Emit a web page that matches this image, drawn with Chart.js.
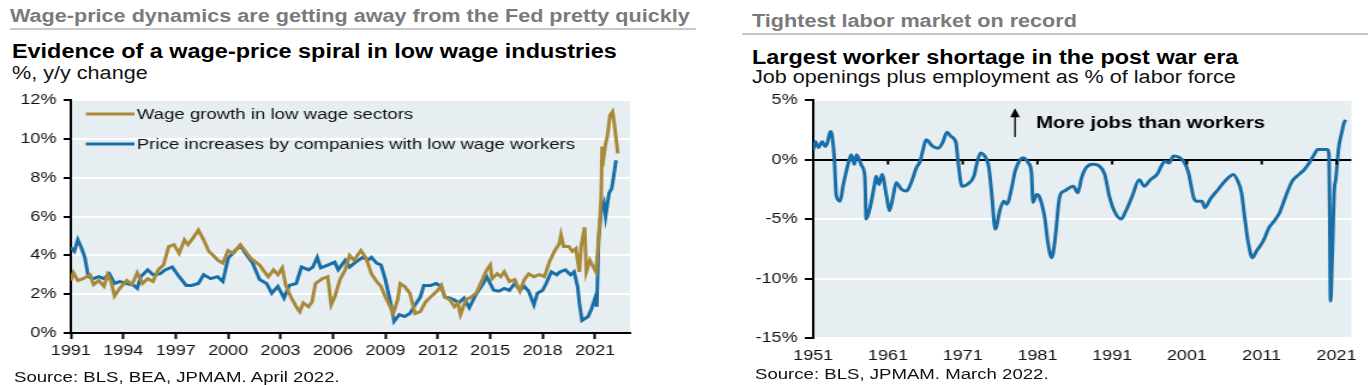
<!DOCTYPE html>
<html lang="en">
<head>
<meta charset="UTF-8" />
<title>Wage-price spiral and labor shortage</title>
<script src="https://cdn.jsdelivr.net/npm/chart.js"></script>
<style>
  body { margin: 0; width: 1368px; height: 385px; background: #fff; position: relative; overflow: hidden;
         font-family: "Liberation Sans", Arial, sans-serif; }
  /* the source graphic is slightly stretched horizontally, so text and canvases get scaleX */
  .txt { position: absolute; white-space: nowrap; line-height: 1; transform: scaleX(1.2); transform-origin: 0 0; }
  .kicker { color: #7a7a7a; font-weight: bold; font-size: 18px; }
  .title { color: #000; font-weight: bold; font-size: 19.5px; }
  .sub { color: #111; font-size: 18px; }
  .src { color: #111; font-size: 15.5px; }
  .rule { position: absolute; height: 2px; background: #c8c8c8; }
  canvas { position: absolute; transform: scaleX(1.2); transform-origin: 0 0; }
</style>
</head>
<body>

<!-- left panel -->
<div class="txt kicker" style="left:10px; top:7px;">Wage-price dynamics are getting away from the Fed pretty quickly</div>
<div class="rule" style="left:10px; top:28px; width:686px;"></div>
<div class="txt title" style="left:12px; top:42px;">Evidence of a wage-price spiral in low wage industries</div>
<div class="txt sub" style="left:12px; top:64px;">%, y/y change</div>
<canvas id="wageCanvas" width="542" height="290" style="left:0; top:85px;"></canvas>
<div class="txt src" style="left:14px; top:369px;">Source: BLS, BEA, JPMAM. April 2022.</div>

<!-- right panel -->
<div class="txt kicker" style="left:752px; top:12px;">Tightest labor market on record</div>
<div class="rule" style="left:742px; top:33px; width:626px;"></div>
<div class="txt title" style="left:752px; top:48px;">Largest worker shortage in the post war era</div>
<div class="txt sub" style="left:752px; top:68px;">Job openings plus employment as % of labor force</div>
<canvas id="laborCanvas" width="523" height="290" style="left:740px; top:85px;"></canvas>
<div class="txt src" style="left:755px; top:366px;">Source: BLS, JPMAM. March 2022.</div>

<script>
    // ---- data: left chart (% y/y) ----
    const wageLabel = 'Wage growth in low wage sectors';
    const priceLabel = 'Price increases by companies with low wage workers';

    const wageYears = [1991.0, 1991.15, 1991.4, 1991.7, 1992.1, 1992.3, 1992.6, 1992.9, 1993.1, 1993.3, 1993.5, 1993.8,
        1994.2, 1994.5, 1994.8, 1995.1, 1995.4, 1995.7, 1996.0, 1996.3, 1996.6, 1996.9, 1997.2, 1997.5, 1997.7,
        1998.0, 1998.3, 1998.6, 1998.9, 1999.2, 1999.4, 1999.7, 2000.0, 2000.3, 2000.7, 2001.0, 2001.3, 2001.8,
        2002.0, 2002.3, 2002.6, 2002.85, 2003.1, 2003.3, 2003.6, 2003.9, 2004.1, 2004.3, 2004.6, 2004.8, 2005.0,
        2005.4, 2005.7, 2005.9, 2006.1, 2006.4, 2006.7, 2006.95, 2007.2, 2007.6, 2007.9, 2008.2, 2008.5, 2008.75,
        2009.0, 2009.2, 2009.45, 2009.7, 2009.85, 2010.1, 2010.4, 2010.7, 2011.0, 2011.3, 2011.7, 2012.0, 2012.2,
        2012.4, 2012.7, 2012.95, 2013.15, 2013.3, 2013.6, 2013.9, 2014.2, 2014.5, 2014.8, 2015.0, 2015.1, 2015.4,
        2015.6, 2015.8, 2016.1, 2016.4, 2016.7, 2016.95, 2017.2, 2017.5, 2017.8, 2018.1, 2018.4, 2018.7, 2018.95,
        2019.05, 2019.2, 2019.5, 2019.7, 2019.9, 2020.1, 2020.2, 2020.4, 2020.5, 2020.7, 2020.9, 2021.05, 2021.2,
        2021.35, 2021.4, 2021.5, 2021.6, 2021.7, 2021.85, 2022.0, 2022.1, 2022.3];
    const wageVals = [2.7, 3.1, 2.7, 2.8, 3.0, 2.5, 2.7, 2.4, 3.0, 2.65, 1.9, 2.3,
        2.7, 2.5, 3.1, 2.55, 2.8, 2.65, 3.25, 3.5, 4.45, 4.55, 4.1, 4.8, 4.55,
        4.9, 5.3, 4.8, 4.2, 3.95, 3.75, 3.6, 4.25, 4.1, 4.55, 4.2, 3.85, 3.5,
        3.25, 2.9, 3.25, 3.0, 3.35, 2.45, 1.85, 1.35, 1.1, 1.55, 1.35, 1.6, 2.55,
        2.8, 2.9, 1.45, 1.85, 2.75, 3.25, 4.0, 3.75, 4.25, 3.85, 3.05, 2.65, 2.4,
        1.85, 1.5, 1.0, 1.7, 2.55, 2.4, 2.05, 1.0, 1.1, 1.6, 1.95, 2.2, 2.45,
        1.85, 1.7, 1.35, 1.55, 0.95, 1.7, 1.85, 2.05, 2.65, 3.25, 3.5, 2.8, 3.05,
        2.9, 3.15, 2.65, 2.75, 2.15, 2.75, 3.05, 2.9, 3.0, 2.9, 3.7, 4.25, 4.6,
        5.05, 4.45, 4.45, 4.2, 4.35, 3.15, 4.45, 5.45, 3.15, 3.75, 3.4, 3.15, 4.8,
        7.0, 9.6, 9.1, 9.75, 10.1, 11.2, 11.4, 10.8, 9.25];

    const priceYears = [1991.0, 1991.2, 1991.4, 1991.6, 1991.8, 1992.0, 1992.3, 1992.6, 1992.9, 1993.2, 1993.5, 1993.8,
        1994.2, 1994.6, 1994.8, 1995.0, 1995.4, 1995.7, 1996.1, 1996.4, 1996.8, 1997.2, 1997.6, 1997.9, 1998.3,
        1998.6, 1999.0, 1999.4, 1999.7, 2000.0, 2000.4, 2000.7, 2001.0, 2001.4, 2001.8, 2002.2, 2002.5, 2002.85,
        2003.2, 2003.5, 2003.9, 2004.2, 2004.6, 2004.85, 2005.1, 2005.3, 2005.7, 2006.1, 2006.3, 2006.7, 2006.95,
        2007.3, 2007.7, 2008.0, 2008.2, 2008.5, 2008.75, 2009.0, 2009.3, 2009.5, 2009.8, 2010.1, 2010.4, 2010.7,
        2011.0, 2011.2, 2011.6, 2011.9, 2012.2, 2012.4, 2012.7, 2012.95, 2013.2, 2013.5, 2013.8, 2014.1, 2014.3,
        2014.6, 2014.8, 2015.0, 2015.2, 2015.5, 2015.8, 2016.1, 2016.4, 2016.7, 2016.95, 2017.2, 2017.5, 2017.7,
        2018.0, 2018.2, 2018.5, 2018.8, 2019.0, 2019.3, 2019.6, 2019.8, 2020.0, 2020.1, 2020.25, 2020.6, 2020.8,
        2021.0, 2021.1, 2021.2, 2021.35, 2021.5, 2021.6, 2021.8, 2021.95, 2022.0, 2022.2];
    const priceVals = [4.4, 4.2, 4.8, 4.4, 3.9, 2.9, 2.8, 2.9, 2.8, 3.05, 2.55, 2.65,
        2.55, 2.45, 2.3, 2.9, 3.25, 3.0, 3.05, 3.25, 3.4, 2.9, 2.45, 2.45, 2.55,
        3.0, 2.8, 2.9, 2.65, 3.85, 4.25, 4.5, 4.1, 3.6, 2.75, 2.55, 2.05, 2.4,
        1.8, 2.45, 2.55, 3.4, 3.25, 3.4, 3.9, 3.35, 3.5, 3.65, 3.25, 3.75, 3.4,
        3.65, 3.9, 3.75, 3.9, 3.6, 3.5, 2.75, 1.55, 0.6, 0.95, 0.85, 1.0, 1.45,
        1.85, 2.45, 2.45, 2.55, 2.4, 1.85, 1.8, 1.7, 1.55, 1.8, 1.3, 1.85, 2.15,
        2.55, 2.9, 2.55, 2.2, 2.15, 2.3, 2.2, 2.55, 2.2, 2.4, 2.15, 1.45, 2.05,
        2.2, 2.55, 3.15, 3.0, 3.15, 3.25, 3.0, 3.15, 2.4, 1.55, 0.65, 0.85, 1.25,
        1.8, 1.35, 4.8, 6.35, 6.7, 6.0, 7.2, 7.45, 7.7, 8.9];

    const wageTickYears = [1991, 1994, 1997, 2000, 2003, 2006, 2009, 2012, 2015, 2018, 2021];

    // ---- data: right chart (% of labor force) ----
    const laborYears = [1951.0, 1951.3, 1951.7, 1952.2, 1952.6, 1952.9, 1953.3, 1953.5, 1953.8, 1954.1, 1954.6, 1955.0,
        1955.7, 1956.1, 1956.5, 1956.8, 1957.5, 1957.9, 1958.1, 1958.6, 1959.2, 1959.4, 1959.8, 1960.2, 1960.8,
        1961.2, 1961.7, 1962.1, 1962.8, 1963.5, 1964.1, 1964.8, 1965.3, 1965.7, 1966.1, 1967.0, 1967.7, 1968.3,
        1968.9, 1969.4, 1970.1, 1970.4, 1970.9, 1971.6, 1972.5, 1972.9, 1973.4, 1973.8, 1974.5, 1974.9, 1975.36,
        1976.0, 1976.5, 1976.9, 1977.6, 1978.0, 1978.7, 1979.1, 1979.8, 1980.2, 1980.4, 1980.9, 1981.3, 1982.0,
        1982.4, 1982.9, 1983.3, 1984.0, 1984.6, 1985.8, 1986.4, 1986.9, 1987.5, 1988.4, 1989.3, 1990.0, 1990.6,
        1991.3, 1992.2, 1992.8, 1993.7, 1994.6, 1995.3, 1996.1, 1997.0, 1997.7, 1998.1, 1998.6, 1999.2, 2000.55,
        2001.2, 2001.9, 2002.3, 2003.0, 2003.4, 2004.1, 2005.0, 2005.9, 2006.5, 2007.2, 2007.8, 2008.3, 2008.7,
        2009.2, 2009.75, 2010.3, 2011.2, 2012.0, 2012.7, 2013.4, 2014.3, 2015.1, 2016.0, 2016.7, 2017.35, 2018.0,
        2018.5, 2019.1, 2019.8, 2020.0, 2020.1, 2020.2, 2020.45, 2020.7, 2020.9, 2021.3, 2021.7, 2022.0, 2022.2];
    const laborVals = [0.8, 1.5, 1.0, 1.5, 1.1, 1.4, 2.35, 2.1, 0.3, -3.05, -3.5, -2.2,
        -0.3, 0.4, -0.4, 0.4, -0.55, -1.4, -5.0, -4.05, -2.1, -1.4, -2.1, -1.25, -3.05,
        -4.3, -3.05, -1.95, -2.5, -2.65, -1.95, -0.7, -0.15, 0.85, 1.65, 1.1, 0.95, 1.4,
        2.3, 1.95, 1.4, -0.3, -2.25, -2.1, -1.4, -0.3, 0.55, 0.4, -0.7, -3.05, -5.85,
        -4.2, -3.5, -3.75, -2.25, -1.0, 0.0, 0.15, -0.3, -1.1, -3.6, -2.95, -3.2, -5.0,
        -7.0, -8.25, -7.0, -3.05, -2.65, -2.25, -2.8, -1.55, -0.7, -0.4, -0.55, -1.25, -3.05,
        -4.35, -5.0, -4.35, -3.05, -1.7, -2.25, -1.7, -1.25, -0.4, -0.15, -0.3, 0.3, -0.15,
        -1.1, -3.2, -3.5, -3.5, -4.05, -3.35, -2.65, -1.95, -1.55, -1.25, -1.8, -2.8, -4.75,
        -7.0, -8.25, -7.7, -6.85, -5.7, -5.15, -4.45, -2.95, -1.8, -1.25, -0.85, -0.3, 0.4,
        0.85, 0.85, 0.85, 0.4, -5.0, -11.9, -7.8, -2.65, -1.7, 1.0, 2.25, 3.05, 3.35];

    const laborTickYears = [1951, 1961, 1971, 1981, 1991, 2001, 2011, 2021];
    const noteText = 'More jobs than workers';

    // ---- styling ----
    const GOLD = '#a8893a';
    const BLUE = '#1a6ea6';
    const PLOT_BG = '#e6eef2';
    const FONT = '"Liberation Sans", Arial, sans-serif';

    Chart.defaults.font.family = FONT;
    Chart.defaults.color = '#111';

    function toPoints(xs, ys) {
        return xs.map((x, i) => ({ x: x, y: ys[i] }));
    }

    // light background behind the plot area
    const plotBg = {
        id: 'plotBg',
        beforeDraw(chart) {
            const a = chart.chartArea;
            const ctx = chart.ctx;
            ctx.save();
            ctx.fillStyle = PLOT_BG;
            ctx.fillRect(a.left, a.top, a.right - a.left, a.bottom - a.top);
            ctx.restore();
        }
    };

    // legend drawn inside the plot, top left, line sample + label
    const insideLegend = {
        id: 'insideLegend',
        afterDatasetsDraw(chart) {
            const a = chart.chartArea;
            const ctx = chart.ctx;
            ctx.save();
            ctx.font = '15.5px ' + FONT;
            ctx.textBaseline = 'middle';
            ctx.fillStyle = '#111';
            chart.data.datasets.forEach((ds, i) => {
                const y = a.top + 14 + i * 30;
                ctx.strokeStyle = ds.borderColor;
                ctx.lineWidth = 3;
                ctx.beginPath();
                ctx.moveTo(a.left + 12.5, y);
                ctx.lineTo(a.left + 53, y);
                ctx.stroke();
                ctx.fillText(ds.label, a.left + 55, y + 1);
            });
            ctx.restore();
        }
    };

    // small tick marks on the zero line + the "more jobs" note with arrow
    const zeroTicks = {
        id: 'zeroTicks',
        afterDraw(chart) {
            const ctx = chart.ctx;
            const xs = chart.scales.x;
            const ys = chart.scales.y;
            const y0 = ys.getPixelForValue(0);
            ctx.save();
            ctx.fillStyle = '#000';
            laborTickYears.slice(1).forEach(yr => {
                const px = xs.getPixelForValue(yr);
                ctx.fillRect(px - 1, y0, 2, 5);
            });

            // arrow
            const ax = xs.getPixelForValue(1978);
            const aTop = ys.getPixelForValue(4.3);
            const aBot = ys.getPixelForValue(1.9);
            ctx.strokeStyle = '#000';
            ctx.lineWidth = 1.3;
            ctx.beginPath();
            ctx.moveTo(ax, aBot);
            ctx.lineTo(ax, aTop + 6);
            ctx.stroke();
            ctx.beginPath();
            ctx.moveTo(ax, aTop);
            ctx.lineTo(ax - 4, aTop + 9);
            ctx.lineTo(ax + 4, aTop + 9);
            ctx.closePath();
            ctx.fill();

            ctx.font = 'bold 17px ' + FONT;
            ctx.textBaseline = 'middle';
            ctx.textAlign = 'left';
            ctx.fillText(noteText, xs.getPixelForValue(1980.8), ys.getPixelForValue(3.0));
            ctx.restore();
        }
    };

    const tickFont = { size: 15, family: FONT };

    new Chart(document.getElementById('wageCanvas'), {
        type: 'line',
        data: {
            datasets: [
                { label: wageLabel, data: toPoints(wageYears, wageVals), borderColor: GOLD, backgroundColor: GOLD, borderWidth: 3 },
                { label: priceLabel, data: toPoints(priceYears, priceVals), borderColor: BLUE, backgroundColor: BLUE, borderWidth: 3 }
            ]
        },
        options: {
            responsive: false,
            animation: false,
            layout: { padding: { top: 14, right: 17, left: 0, bottom: 0 } },
            elements: { point: { radius: 0 }, line: { tension: 0 } },
            plugins: {
                tooltip: { enabled: false },
                legend: { display: false }
            },
            scales: {
                x: {
                    type: 'linear',
                    min: 1991,
                    max: 2023,
                    afterBuildTicks: s => { s.ticks = wageTickYears.map(v => ({ value: v })); },
                    afterFit: s => { s.height = 42; },
                    ticks: { callback: v => String(v), font: tickFont, color: '#111', padding: 3, maxRotation: 0, autoSkip: false },
                    grid: { drawOnChartArea: false, tickLength: 6, tickColor: '#000', tickWidth: 2 },
                    border: { color: '#000', width: 2 }
                },
                y: {
                    min: 0,
                    max: 12,
                    afterFit: s => { s.width = 59; },
                    ticks: { stepSize: 2, callback: v => v + '%', font: tickFont, color: '#111', padding: 6 },
                    grid: { color: '#fff', lineWidth: 2, tickColor: '#000', tickLength: 6, tickWidth: 2 },
                    border: { color: '#000', width: 2 }
                }
            }
        },
        plugins: [plotBg, insideLegend]
    });

    new Chart(document.getElementById('laborCanvas'), {
        type: 'line',
        data: {
            datasets: [
                { label: 'Job openings plus employment', data: toPoints(laborYears, laborVals), borderColor: BLUE, backgroundColor: BLUE, borderWidth: 3 }
            ]
        },
        options: {
            responsive: false,
            animation: false,
            layout: { padding: { top: 13, right: 10, left: 0, bottom: 0 } },
            elements: { point: { radius: 0 }, line: { cubicInterpolationMode: 'monotone' } },
            plugins: {
                tooltip: { enabled: false },
                legend: { display: false }
            },
            scales: {
                x: {
                    type: 'linear',
                    min: 1951,
                    max: 2023,
                    afterBuildTicks: s => { s.ticks = laborTickYears.map(v => ({ value: v })); },
                    afterFit: s => { s.height = 37; },
                    ticks: { callback: v => String(v), font: tickFont, color: '#111', padding: 9, maxRotation: 0, autoSkip: false },
                    grid: { drawOnChartArea: false, drawTicks: false },
                    border: { display: false }
                },
                y: {
                    min: -15,
                    max: 5,
                    afterFit: s => { s.width = 61; },
                    ticks: { stepSize: 5, callback: v => v + '%', font: tickFont, color: '#111', padding: 6 },
                    grid: {
                        color: c => (c.tick && c.tick.value === 0 ? '#000' : '#fff'),
                        lineWidth: 2,
                        tickColor: '#000',
                        tickLength: 7,
                        tickWidth: 2
                    },
                    border: { color: '#000', width: 2 }
                }
            }
        },
        plugins: [plotBg, zeroTicks]
    });
</script>
</body>
</html>
